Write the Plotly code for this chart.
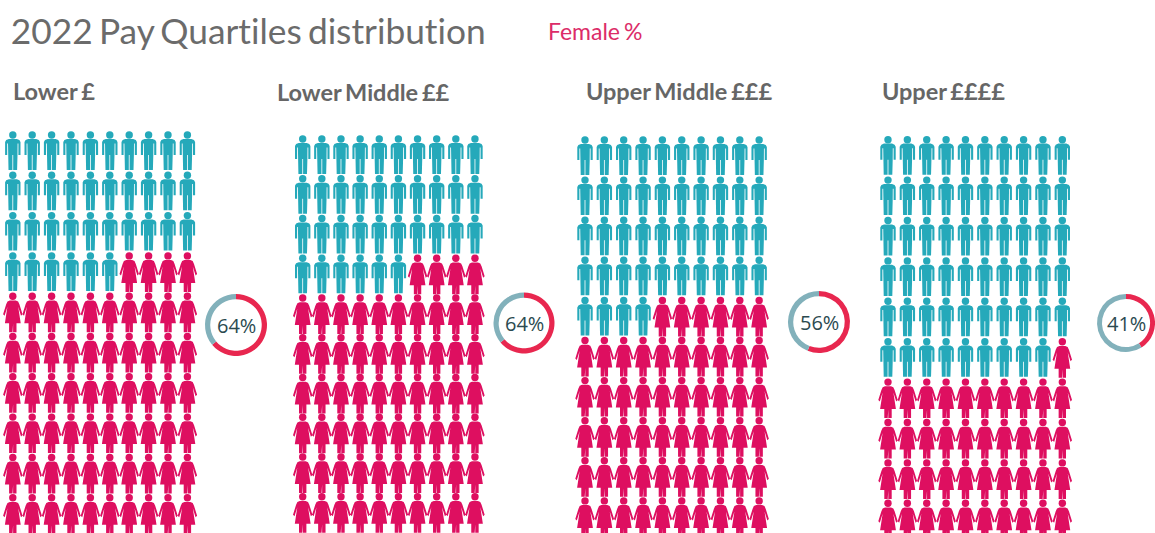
import numpy as np
import plotly.graph_objects as go

W, H = 1155, 533
TITLE = "2022 Pay Quartiles distribution"
LEGEND = "Female %"
quartiles = ["Lower £", "Lower Middle ££", "Upper Middle £££", "Upper ££££"]
female_pct = [64, 64, 56, 41]

# layout in pixels
x_first = [12.8, 302.7, 585, 888]
col_step = [19.4, 19.14, 19.35, 19.37]
y_first = [135, 139, 140, 139.7]
row_step = [40.3, 39.75, 40.1, 40.4]
label_x = [10, 273, 582, 879]
label_y = [91, 92, 90.5, 90.5]
donut_cx = [236, 524, 819, 1126]
donut_cy = [325, 323, 322, 323]
donut_r = [31, 30.5, 31, 29]

PINK = "#DE0F60"
TEAL = "#25A9BA"
RING_RED = "#E8274F"
RING_GREY = "#82B1BB"

man_outline = [(-4,3.9),(4,3.9),(6.6,5),(7.7,7),(7.7,20),(5.6,20),(5.6,8.6),(4.8,8.6),(4.7,20),(4.3,35),(0.4,35),(0.4,20),
               (-0.4,20),(-0.4,35),(-4.3,35),(-4.7,20),(-4.8,8.6),(-5.6,8.6),(-5.6,20),(-7.7,20),(-7.7,7),(-6.6,5)]
woman_outline = [(-3,4.2),(3,4.2),(5.3,5.2),(6.6,8),(9.7,18),(8.2,19.5),(5.4,10.5),(7.9,27),(3.7,27),(3.7,36),(0.3,36),(0.3,27.5),
                 (-0.3,27.5),(-0.3,36),(-3.7,36),(-3.7,27),(-7.9,27),(-5.4,10.5),(-8.2,19.5),(-9.7,18),(-6.6,8),(-5.3,5.2)]

def bodies(cells, outline, dx, dy):
    xs, ys = [], []
    for c, r in cells:
        for px, py in outline + outline[:1]:
            xs.append(c + px / dx)
            ys.append(r + py / dy)
        xs.append(None)
        ys.append(None)
    return xs, ys

fig = go.Figure()
layout_axes = {}
for i, pct in enumerate(female_pct):
    dx, dy = col_step[i], row_step[i]
    n_men = 100 - pct
    cells = [(c, r) for r in range(10) for c in range(10)]
    men, women = cells[:n_men], cells[n_men:]
    ax = "" if i == 0 else str(i + 1)
    pad = 12
    left = x_first[i] - pad
    right = x_first[i] + 9 * dx + pad
    layout_axes[f"xaxis{ax}"] = dict(domain=[left / W, right / W], range=[-pad / dx, 9 + pad / dx],
                                     visible=False, fixedrange=True, anchor=f"y{ax}")
    layout_axes[f"yaxis{ax}"] = dict(domain=[0, 1], range=[(H - y_first[i]) / dy, -y_first[i] / dy],
                                     visible=False, fixedrange=True, anchor=f"x{ax}")
    for group, outline, col in ((men, man_outline, TEAL), (women, woman_outline, PINK)):
        xs, ys = bodies(group, outline, dx, dy)
        fig.add_trace(go.Scatter(x=xs, y=ys, mode="lines", fill="toself", fillcolor=col,
                                 line=dict(width=0, color=col), hoverinfo="skip", showlegend=False,
                                 xaxis=f"x{ax}", yaxis=f"y{ax}"))
        fig.add_trace(go.Scatter(x=[c for c, r in group], y=[r for c, r in group], mode="markers",
                                 marker=dict(symbol="circle", size=7.4, color=col, line=dict(width=0)),
                                 hoverinfo="skip", showlegend=False, xaxis=f"x{ax}", yaxis=f"y{ax}"))
    cx, cy, rad = donut_cx[i], donut_cy[i], donut_r[i]
    fig.add_trace(go.Pie(values=[pct, 100 - pct], labels=["Female", "Male"], hole=0.83, sort=False,
                         direction="clockwise", rotation=0, textinfo="none", hoverinfo="skip", showlegend=False,
                         marker=dict(colors=[RING_RED, RING_GREY], line=dict(width=0)),
                         domain=dict(x=[(cx - rad) / W, (cx + rad) / W], y=[1 - (cy + rad) / H, 1 - (cy - rad) / H])))

def note(text, x, y, size, color, family="Lato", anchor="left"):
    return dict(text=text, x=x / W, y=1 - y / H, xref="paper", yref="paper", xanchor=anchor, yanchor="middle",
                showarrow=False, font=dict(family=family, size=size, color=color))

ann = [note(TITLE, 3.5, 30, 35.3, "#6B6B6B"), note(LEGEND, 545, 31, 23, "#DC2C68")]
for i, q in enumerate(quartiles):
    ann.append(note(f"<b>{q}</b>", label_x[i], label_y[i], 23.5, "#666666"))
    ann.append(note(f"{female_pct[i]}%", donut_cx[i], donut_cy[i], 20, "#2B4A50", family="Open Sans", anchor="center"))

fig.update_layout(width=W, height=H, margin=dict(l=0, r=0, t=0, b=0), paper_bgcolor="white", plot_bgcolor="white",
                  annotations=ann, **layout_axes)
POST = ("document.body.style.margin='0';"
        "var s=document.createElement('style');"
        "s.textContent='text{font-variant-ligatures:none !important;font-feature-settings:\"liga\" 0 !important;word-spacing:-0.08em}';"
        "document.head.appendChild(s);")
fig.write_html("out.html", config=dict(displayModeBar=False), post_script=POST)
